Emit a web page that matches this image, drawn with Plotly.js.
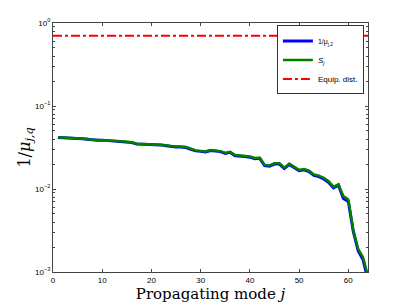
<!DOCTYPE html>
<html>
<head>
<meta charset="utf-8">
<script src="https://cdn.plot.ly/plotly-3.0.1.min.js"></script>
<style>html,body{margin:0;padding:0;background:#fff;}#chart{width:407px;height:306px;}</style>
</head>
<body>
<div id="chart"></div>
<script>
const modes = [1,2,3,4,5,6,7,8,9,10,11,12,13,14,15,16,17,18,19,20,21,22,23,24,25,26,27,28,29,30,31,32,
  33,34,35,36,37,38,39,40,41,42,43,44,45,46,47,48,49,50,51,52,53,54,55,56,57,58,59,60,61,62,63,64];
const sj = [0.0420,0.0418,0.0416,0.0414,0.0410,0.0405,0.0400,0.0392,0.0390,0.0390,0.0386,0.0382,0.0378,0.0376,0.0372,0.0366,
  0.0352,0.0350,0.0350,0.0343,0.0342,0.0344,0.0336,0.0328,0.0324,0.0324,0.0320,0.0305,0.0292,0.0288,0.0283,0.0295,
  0.0293,0.0286,0.0272,0.0280,0.0256,0.0255,0.0250,0.0246,0.0236,0.0238,0.0195,0.0192,0.0204,0.0204,0.0181,0.0202,
  0.0187,0.0170,0.0174,0.0166,0.0150,0.0145,0.0136,0.0124,0.0106,0.0114,0.0082,0.0075,0.0032,0.0019,0.0015,0.0009];
const invMu = [0.0418,0.0416,0.0414,0.0411,0.0406,0.0402,0.0397,0.0389,0.0387,0.0388,0.0383,0.0378,0.0374,0.0373,0.0369,0.0362,
  0.0349,0.0347,0.0347,0.0340,0.0338,0.0340,0.0332,0.0324,0.0320,0.0320,0.0316,0.0301,0.0288,0.0284,0.0279,0.0291,
  0.0289,0.0282,0.0268,0.0276,0.0252,0.0251,0.0246,0.0242,0.0232,0.0234,0.0191,0.0188,0.0200,0.0200,0.0177,0.0198,
  0.0183,0.0166,0.0170,0.0162,0.0146,0.0141,0.0132,0.0120,0.0103,0.0111,0.0077,0.0071,0.0031,0.0018,0.0014,0.0008];
const equipX = [0, 64];
const equipY = [0.7, 0.7];
const yTickVals = [0.001, 0.01, 0.1, 1];
const yTickText = ['10<sup>−3</sup>','10<sup>−2</sup>','10<sup>−1</sup>','10<sup>0</sup>'];
const yMinorVals = [0.002,0.003,0.004,0.005,0.006,0.007,0.008,0.009,
  0.02,0.03,0.04,0.05,0.06,0.07,0.08,0.09,0.2,0.3,0.4,0.5,0.6,0.7,0.8,0.9];
const xTickVals = [0,10,20,30,40,50,60];

const traces = [
  {x: modes, y: invMu, mode: 'lines', name: '<span style="font-size:7px">1/μ<sub>j,2</sub></span>',
   line: {color: '#0000ff', width: 3}},
  {x: modes, y: sj, mode: 'lines', name: '<i>S</i><sub><i>j</i></sub>',
   line: {color: '#007f00', width: 2.5}},
  {x: equipX, y: equipY, mode: 'lines', name: 'Equip. dist.',
   line: {color: '#ff0000', width: 2, dash: 'dashdot'}}
];

const layout = {
  width: 407, height: 306,
  margin: {l: 53, r: 39, t: 23, b: 34},
  paper_bgcolor: '#fff', plot_bgcolor: '#fff',
  font: {family: 'Liberation Sans, Arial, sans-serif', size: 8, color: '#000'},
  showlegend: true,
  legend: {x: 0.987, y: 0.99, xanchor: 'right', yanchor: 'top',
    bgcolor: '#fff', bordercolor: '#333', borderwidth: 1,
    font: {family: 'Liberation Sans, Arial, sans-serif', size: 8},
    tracegroupgap: 0, itemwidth: 30},
  xaxis: {range: [0, 64], tickvals: xTickVals, ticks: 'inside', ticklen: 3, tickcolor: '#444',
    showgrid: false, zeroline: false, showline: true, linecolor: '#444', linewidth: 1, mirror: 'ticks',
    tickfont: {size: 8},
    title: {text: 'Propagating mode <i>j</i>', standoff: 2,
      font: {family: 'DejaVu Serif, Liberation Serif, serif', size: 15}}},
  yaxis: {type: 'log', range: [-3, 0], tickvals: yTickVals, ticktext: yTickText,
    ticks: 'inside', ticklen: 3, tickcolor: '#444', showgrid: false, zeroline: false, showline: true,
    linecolor: '#444', linewidth: 1, mirror: 'ticks', tickfont: {size: 8},
    minor: {tickmode: 'array', tickvals: yMinorVals, ticks: 'inside', ticklen: 2, showgrid: false, tickcolor: '#444'},
    title: {text: '1/<i>μ</i><sub><i>j,q</i></sub>', standoff: 0,
      font: {family: 'DejaVu Serif, Liberation Serif, serif', size: 16}}}
};

Plotly.newPlot('chart', traces, layout, {displayModeBar: false, staticPlot: true});
</script>
</body>
</html>
